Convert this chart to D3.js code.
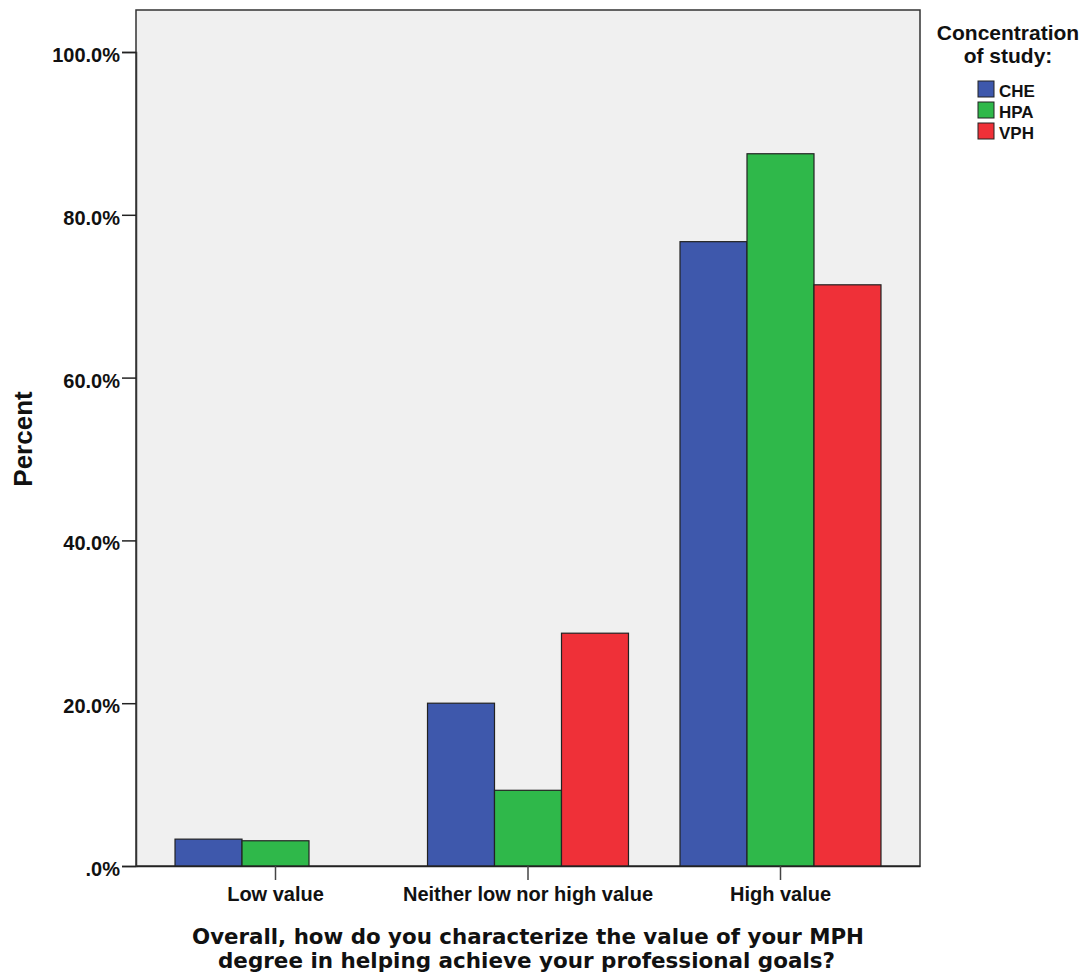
<!DOCTYPE html>
<html><head><meta charset="utf-8">
<script src="https://cdn.jsdelivr.net/npm/d3@7"></script>
<style>body{margin:0;background:#fff;}svg{display:block;font-family:"Liberation Sans",Arial,sans-serif;font-weight:bold;}</style>
</head><body>
<svg id="c" width="1089" height="975"></svg>
<script>
const categories = ["Low value", "Neither low nor high value", "High value"];
const seriesNames = ["CHE", "HPA", "VPH"];
const CHE = [3.3, 20.0, 76.7];
const HPA = [3.1, 9.3, 87.5];
const VPH = [0.0, 28.6, 71.4];
const yTicks = [0, 20, 40, 60, 80, 100];
const colors = ["#3e58ac", "#2fb84a", "#ef3038"];

const seriesValues = [CHE, HPA, VPH];
const svg = d3.select("#c");
const L = 136, R = 920, T = 10, B = 866;

svg.append("rect").attr("x", L).attr("y", T).attr("width", R - L).attr("height", B - T)
  .attr("fill", "#f0f0f0").attr("stroke", "#333").attr("stroke-width", 1.5);

const x0 = d3.scaleBand().domain(categories).range([L, R]).paddingInner(0.204).paddingOuter(0.1545);
const x1 = d3.scaleBand().domain(seriesNames).range([0, x0.bandwidth()]).padding(0);
const y = d3.scaleLinear().domain([0, 100]).range([B, B - 814]);

const g = svg.append("g");
categories.forEach((c, ci) => {
  seriesNames.forEach((s, si) => {
    const v = seriesValues[si][ci];
    g.append("rect")
      .attr("x", x0(c) + x1(s))
      .attr("y", y(v))
      .attr("width", x1.bandwidth())
      .attr("height", Math.max(0, y(0) - y(v)))
      .attr("fill", colors[si])
      .attr("stroke", "#222").attr("stroke-width", 1.2);
  });
});

const fmt = v => v === 0 ? ".0%" : v.toFixed(1) + "%";
const yAxis = svg.append("g").attr("transform", `translate(${L},0)`)
  .call(d3.axisLeft(y).tickValues(yTicks).tickFormat(fmt).tickSize(14).tickPadding(2));
yAxis.select(".domain").attr("stroke", "#333").attr("stroke-width", 1.5);
yAxis.selectAll(".tick line").attr("stroke", "#222").attr("stroke-width", 1.5);
yAxis.selectAll("text").attr("font-size", 20).attr("font-weight", "bold").attr("fill", "#111")
  .attr("font-family", "Liberation Sans, Arial, sans-serif").attr("y", 3);

const xAxis = svg.append("g").attr("transform", `translate(0,${B})`)
  .call(d3.axisBottom(x0).tickSize(14).tickSizeOuter(0).tickPadding(0));
xAxis.select(".domain").attr("stroke", "#222").attr("stroke-width", 1.5);
xAxis.selectAll(".tick line").attr("stroke", "#444").attr("stroke-width", 1.5);
xAxis.selectAll("text").attr("font-size", 20).attr("font-weight", "bold").attr("fill", "#111")
  .attr("font-family", "Liberation Sans, Arial, sans-serif").attr("y", 35).attr("dy", null);

svg.append("text").attr("transform", `translate(32,${(T + B) / 2 + 1}) rotate(-90)`)
  .attr("text-anchor", "middle").attr("font-size", 26).attr("fill", "#111").text("Percent");

const xt = svg.append("text").attr("text-anchor", "middle").attr("font-size", 22).attr("fill", "#111")
  .attr("font-family", "DejaVu Sans, Verdana, sans-serif");
xt.append("tspan").attr("x", (L + R) / 2).attr("y", 944).attr("textLength", 672).attr("lengthAdjust", "spacingAndGlyphs")
  .text("Overall, how do you characterize the value of your MPH");
xt.append("tspan").attr("x", 526.5).attr("y", 968).attr("textLength", 617).attr("lengthAdjust", "spacingAndGlyphs")
  .text("degree in helping achieve your professional goals?");

const lg = svg.append("g");
lg.append("text").attr("x", 1008).attr("y", 40).attr("text-anchor", "middle").attr("font-size", 21).attr("fill", "#111").text("Concentration");
lg.append("text").attr("x", 1008).attr("y", 63).attr("text-anchor", "middle").attr("font-size", 21).attr("fill", "#111").text("of study:");
seriesNames.forEach((s, i) => {
  lg.append("rect").attr("x", 978).attr("y", 81 + i * 21).attr("width", 16).attr("height", 16)
    .attr("fill", colors[i]).attr("stroke", "#222").attr("stroke-width", 1);
  lg.append("text").attr("x", 999).attr("y", 97 + i * 21).attr("font-size", 17).attr("fill", "#111").text(s);
});
</script>
</body></html>
